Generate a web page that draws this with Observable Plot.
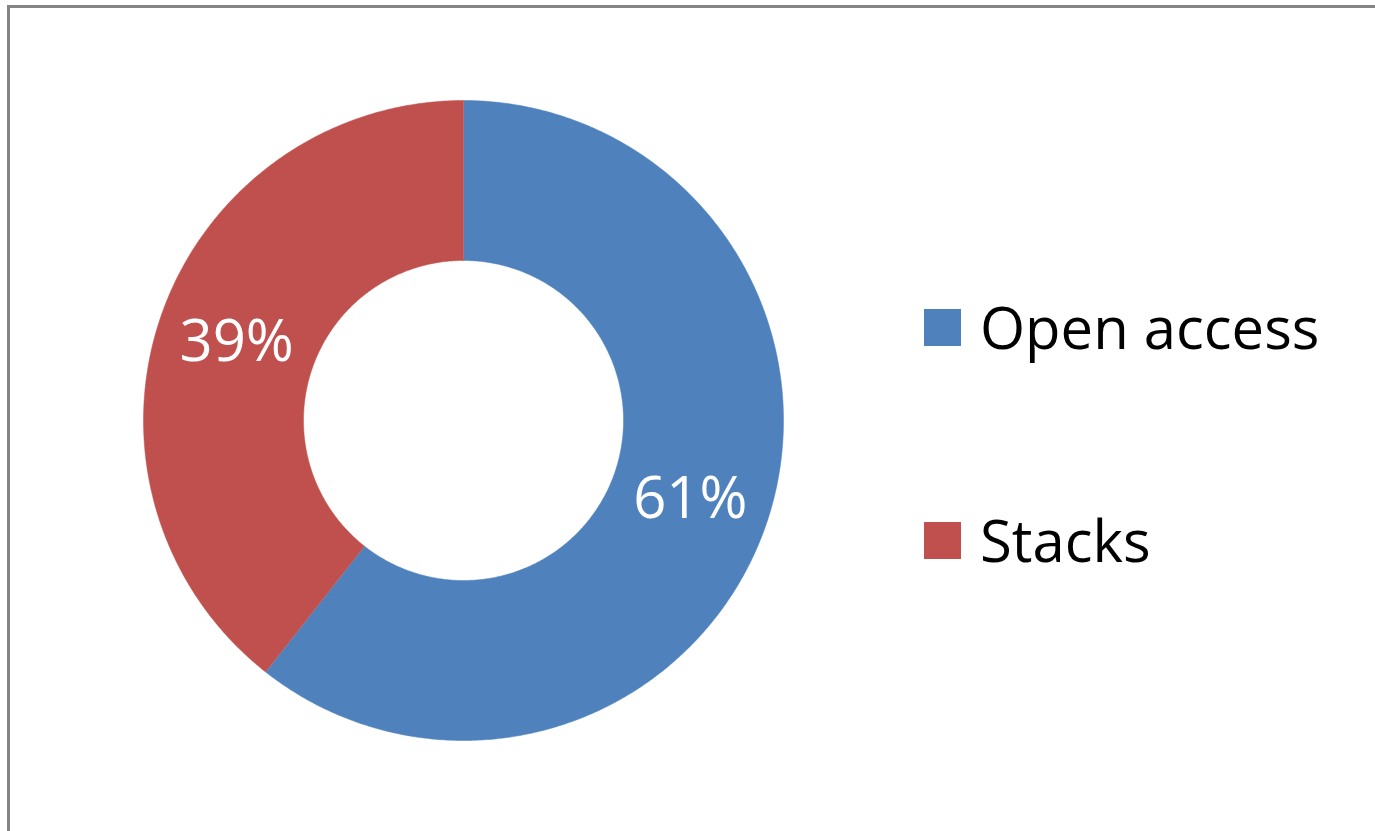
<!DOCTYPE html>
<html><head><meta charset="utf-8">
<script src="https://cdn.jsdelivr.net/npm/d3@7"></script>
<script src="https://cdn.jsdelivr.net/npm/@observablehq/plot@0.6"></script>
<style>
body{margin:0;background:#fff;font-family:"Open Sans",sans-serif;}
#wrap{position:relative;width:1375px;height:831px;overflow:hidden;}
#chart{position:absolute;left:0;top:0;}
#frame{position:absolute;left:7px;top:5px;width:1400px;height:900px;border-left:3px solid #858585;border-top:3px solid #858585;box-sizing:border-box;pointer-events:none;}
.legend-item{position:absolute;left:924px;display:flex;align-items:center;height:57px;font-size:58px;line-height:1;color:#000;white-space:nowrap;}
.sw{width:37px;height:37px;margin-right:19px;flex:none;}
</style></head><body>
<div id="wrap"><div id="chart"></div><div id="legend"></div><div id="frame"></div></div>
<script>
const categories = ["Open access", "Stacks"];
const values = [60.6, 39.4];
const labels = ["61%", "39%"];
const colors = ["#4F81BD", "#C0504D"];

const innerRatio = 0.5;
const total = d3.sum(values);
const pts = [];
const lbl = [];
let start = 0;
categories.forEach((c, i) => {
  const a0 = start / total * 2 * Math.PI;
  const a1 = (start + values[i]) / total * 2 * Math.PI;
  const n = Math.max(2, Math.ceil((a1 - a0) / (Math.PI / 360)));
  for (let k = 0; k <= n; k++) {
    const a = a0 + (a1 - a0) * k / n;
    pts.push({cat: c, x: Math.sin(a), y: Math.cos(a)});
  }
  for (let k = n; k >= 0; k--) {
    const a = a0 + (a1 - a0) * k / n;
    pts.push({cat: c, x: innerRatio * Math.sin(a), y: innerRatio * Math.cos(a)});
  }
  const am = (a0 + a1) / 2, rm = (1 + innerRatio) / 2;
  lbl.push({cat: c, text: labels[i], x: rm * Math.sin(am), y: rm * Math.cos(am)});
  start += values[i];
});

const chart = Plot.plot({
  width: 1375, height: 831, margin: 0,
  style: {background: "transparent", fontFamily: "Open Sans"},
  x: {domain: [-1, 1], range: [143, 783], axis: null},
  y: {domain: [-1, 1], range: [740, 100], axis: null},
  color: {domain: categories, range: colors},
  marks: [
    Plot.line(pts, {x: "x", y: "y", z: "cat", fill: "cat", stroke: "cat", strokeWidth: 0.5, curve: "linear"}),
    Plot.text(lbl, {x: "x", y: "y", text: "text", fill: "white", fontSize: 58, fontFamily: "Open Sans"})
  ]
});
document.getElementById("chart").appendChild(chart);

const lg = document.getElementById("legend");
const centers = [327, 540];
categories.forEach((c, i) => {
  const item = document.createElement("div");
  item.className = "legend-item";
  item.style.top = (centers[i] - 28.5) + "px";
  const sw = document.createElement("div");
  sw.className = "sw";
  sw.style.background = colors[i];
  const t = document.createElement("span");
  t.textContent = c;
  item.appendChild(sw); item.appendChild(t);
  lg.appendChild(item);
});
</script>
</body></html>
